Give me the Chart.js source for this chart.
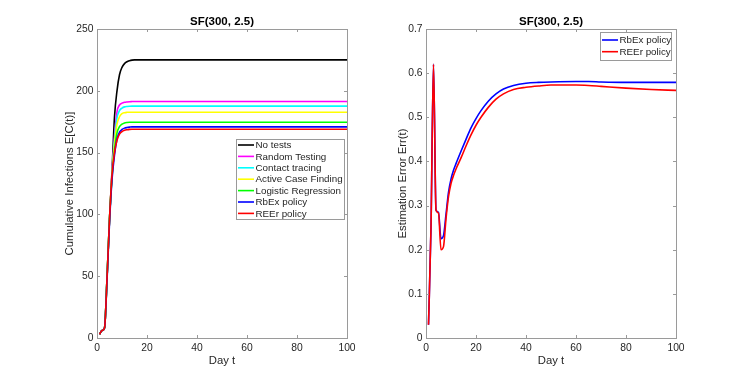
<!DOCTYPE html>
<html>
<head>
<meta charset="utf-8">
<script src="https://cdn.jsdelivr.net/npm/chart.js@4/dist/chart.umd.min.js"></script>
<style>
    html, body { margin: 0; padding: 0; background: #fff; }
    #wrap { position: relative; width: 747px; height: 380px; }
    canvas { position: absolute; top: 0; }
</style>
</head>
<body>
<div id="wrap">
    <canvas id="infChart" width="373" height="380" style="left:0"></canvas>
    <canvas id="errChart" width="374" height="380" style="left:373px"></canvas>
</div>
<script>
/* --- data --- */
const chartTitle = 'SF(300, 2.5)';

// left panel: cumulative infections
const infDays = [1, 2, 3, 4, 5, 6, 7, 8, 9, 10, 11, 12, 13, 14, 15, 17, 20, 25, 30, 40, 50, 60, 70, 80, 90, 100];
const infLabels = ['No tests', 'Random Testing', 'Contact tracing', 'Active Case Finding', 'Logistic Regression', 'RbEx policy', 'REEr policy'];
const noTests    = [3, 6, 8, 48, 96, 135, 179, 200, 213, 219, 222, 223.5, 224.3, 224.8, 225, 225, 225, 225, 225, 225, 225, 225, 225, 225, 225, 225];
const randomTest = [3, 6, 8, 48, 96, 133, 163, 183, 188.5, 190, 190.7, 191, 191.2, 191.3, 191.4, 191.4, 191.4, 191.4, 191.4, 191.4, 191.4, 191.4, 191.4, 191.4, 191.4, 191.4];
const contactTr  = [3, 6, 8, 48, 96, 132, 160, 178, 184, 186, 187, 187.3, 187.5, 187.6, 187.6, 187.6, 187.6, 187.6, 187.6, 187.6, 187.6, 187.6, 187.6, 187.6, 187.6, 187.6];
const activeCF   = [3, 6, 8, 48, 96, 131, 157, 173, 179, 181.5, 182.3, 182.6, 182.7, 182.7, 182.7, 182.7, 182.7, 182.7, 182.7, 182.7, 182.7, 182.7, 182.7, 182.7, 182.7, 182.7];
const logReg     = [3, 6, 8, 48, 96, 130, 152, 166, 171, 173, 174, 174.4, 174.6, 174.6, 174.6, 174.6, 174.6, 174.6, 174.6, 174.6, 174.6, 174.6, 174.6, 174.6, 174.6, 174.6];
const rbexInf    = [3, 6, 8, 46, 93, 128, 148, 161, 166.5, 168.7, 169.8, 170.3, 170.6, 170.8, 170.8, 170.8, 170.8, 170.8, 170.8, 170.8, 170.8, 170.8, 170.8, 170.8, 170.8, 170.8];
const reerInf    = [3, 6, 8, 48, 96, 132, 150, 160, 165, 167, 168, 168.5, 168.8, 168.9, 168.9, 168.9, 168.9, 168.9, 168.9, 168.9, 168.9, 168.9, 168.9, 168.9, 168.9, 168.9];
const infTicks = [0, 50, 100, 150, 200, 250];

// right panel: estimation error
const errDays = [1, 2, 3, 4, 5, 6, 7, 8, 9, 10, 11, 12, 14, 16, 18, 20, 22, 25, 28, 31, 35, 40, 45, 50, 60, 65, 70, 80, 90, 100];
const errLabels = ['RbEx policy', 'REEr policy'];
const rbexErr = [0.03, 0.25, 0.62, 0.29, 0.285, 0.225, 0.232, 0.28, 0.33, 0.36, 0.38, 0.395, 0.423, 0.45, 0.476, 0.497, 0.515, 0.537, 0.553, 0.564, 0.572, 0.577, 0.579, 0.58, 0.581, 0.581, 0.58, 0.579, 0.579, 0.579];
const reerErr = [0.03, 0.25, 0.62, 0.29, 0.283, 0.2, 0.207, 0.27, 0.32, 0.35, 0.368, 0.383, 0.408, 0.435, 0.46, 0.482, 0.5, 0.523, 0.541, 0.553, 0.563, 0.568, 0.571, 0.573, 0.573, 0.572, 0.57, 0.566, 0.563, 0.561];
const errTicks = [0, 0.1, 0.2, 0.3, 0.4, 0.5, 0.6, 0.7];

const dayTicks = [0, 20, 40, 60, 80, 100];

/* --- look --- */
const FONT = 'Liberation Sans, Arial, sans-serif';
const AXIS_GRAY = '#9a9a9a';
const TEXT_COL = '#262626';

function pts(xs, ys) {
    return xs.map((x, i) => ({ x: x, y: ys[i] }));
}

// box, inward ticks on all four sides, title over the plot area
const framePlugin = {
    id: 'frame',
    afterDatasetsDraw(chart) {
        const { ctx, chartArea: a, scales } = chart;
        ctx.save();
        ctx.strokeStyle = AXIS_GRAY;
        ctx.lineWidth = 1;
        ctx.strokeRect(Math.round(a.left) + 0.5, Math.round(a.top) + 0.5,
                       Math.round(a.right - a.left), Math.round(a.bottom - a.top));
        const tl = 3;
        ctx.beginPath();
        scales.x.ticks.forEach(t => {
            const px = Math.round(scales.x.getPixelForValue(t.value)) + 0.5;
            ctx.moveTo(px, a.bottom); ctx.lineTo(px, a.bottom - tl);
            ctx.moveTo(px, a.top); ctx.lineTo(px, a.top + tl);
        });
        scales.y.ticks.forEach(t => {
            const py = Math.round(scales.y.getPixelForValue(t.value)) + 0.5;
            ctx.moveTo(a.left, py); ctx.lineTo(a.left + tl, py);
            ctx.moveTo(a.right, py); ctx.lineTo(a.right - tl, py);
        });
        ctx.stroke();

        ctx.fillStyle = '#000';
        ctx.font = 'bold 11.5px ' + FONT;
        ctx.textAlign = 'center';
        ctx.textBaseline = 'middle';
        ctx.fillText(chartTitle, (a.left + a.right) / 2, 22);
        ctx.restore();
    }
};

// legend drawn inside the axes, Octave style
const boxLegendPlugin = {
    id: 'boxLegend',
    afterDraw(chart, args, opts) {
        const { ctx, chartArea: a } = chart;
        const left = a.right - opts.right - opts.width;
        const top = a.top + opts.top;
        const n = chart.data.datasets.length;
        const h = opts.pad * 2 + opts.gap * (n - 1);
        ctx.save();
        ctx.fillStyle = '#fff';
        ctx.fillRect(left, top, opts.width, h);
        ctx.strokeStyle = AXIS_GRAY;
        ctx.lineWidth = 1;
        ctx.strokeRect(Math.round(left) + 0.5, Math.round(top) + 0.5, opts.width, Math.round(h));
        ctx.font = '9.8px ' + FONT;
        ctx.textBaseline = 'middle';
        ctx.textAlign = 'left';
        chart.data.datasets.forEach((ds, i) => {
            const y = top + opts.pad + i * opts.gap;
            ctx.strokeStyle = ds.borderColor;
            ctx.lineWidth = 1.6;
            ctx.beginPath();
            ctx.moveTo(left + 2, y);
            ctx.lineTo(left + 18, y);
            ctx.stroke();
            ctx.fillStyle = TEXT_COL;
            ctx.fillText(ds.label, left + 19.5, y + 0.5);
        });
        ctx.restore();
    }
};

function axisOpts(ticksList, min, max, title, isX, fixed, titlePad) {
    return {
        type: 'linear',
        min: min,
        max: max,
        afterBuildTicks: s => { s.ticks = ticksList.map(v => ({ value: v })); },
        afterFit: s => { if (isX) s.height = fixed; else s.width = fixed; },
        grid: { display: false, drawTicks: false },
        border: { display: false },
        ticks: {
            color: TEXT_COL,
            font: { family: FONT, size: 10.3 },
            padding: isX ? 4 : 3.5,
            maxRotation: 0,
            callback: v => String(+v.toFixed(2))
        },
        title: {
            display: true,
            text: title,
            color: TEXT_COL,
            font: { family: FONT, size: 11.3 },
            padding: isX ? { top: 0, bottom: titlePad } : { top: titlePad, bottom: 0 }
        }
    };
}

function makeChart(id, datasets, yTicks, yMax, yTitle, yWidth, yTitlePad, padRight, legendOpts) {
    return new Chart(document.getElementById(id).getContext('2d'), {
        type: 'line',
        data: { datasets: datasets },
        options: {
            responsive: false,
            animation: false,
            devicePixelRatio: 1,
            layout: { padding: { left: 0, right: padRight, top: 29, bottom: 0 } },
            elements: { point: { radius: 0 }, line: { borderWidth: 1.6, cubicInterpolationMode: 'monotone' } },
            plugins: {
                legend: { display: false },
                tooltip: { enabled: false },
                boxLegend: legendOpts
            },
            scales: {
                x: axisOpts(dayTicks, 0, 100, 'Day t', true, 42, 12.2),
                y: axisOpts(yTicks, 0, yMax, yTitle, false, yWidth, yTitlePad)
            }
        },
        plugins: [framePlugin, boxLegendPlugin]
    });
}

const infColors = ['#000000', '#ff00ff', '#00ffff', '#ffff00', '#00ff00', '#0000ff', '#ff0000'];
const infSeries = [noTests, randomTest, contactTr, activeCF, logReg, rbexInf, reerInf];
const infSets = infSeries.map((s, i) => ({
    label: infLabels[i],
    data: pts(infDays, s),
    borderColor: infColors[i],
    fill: false,
    order: infSeries.length - i
}));

const errSets = [
    { label: errLabels[0], data: pts(errDays, rbexErr), borderColor: '#0000ff', fill: false, order: 2 },
    { label: errLabels[1], data: pts(errDays, reerErr), borderColor: '#ff0000', fill: false, order: 1 }
];

window.infChart = makeChart('infChart', infSets, infTicks, 250, 'Cumulative Infections E[C(t)]', 97, 62.7, 26,
    { right: 3, top: 110, width: 108, pad: 6, gap: 11.4 });
window.errChart = makeChart('errChart', errSets, errTicks, 0.7, 'Estimation Error Err(t)', 53, 23.2, 71,
    { right: 5, top: 3, width: 71, pad: 8, gap: 11.7 });
</script>
</body>
</html>
